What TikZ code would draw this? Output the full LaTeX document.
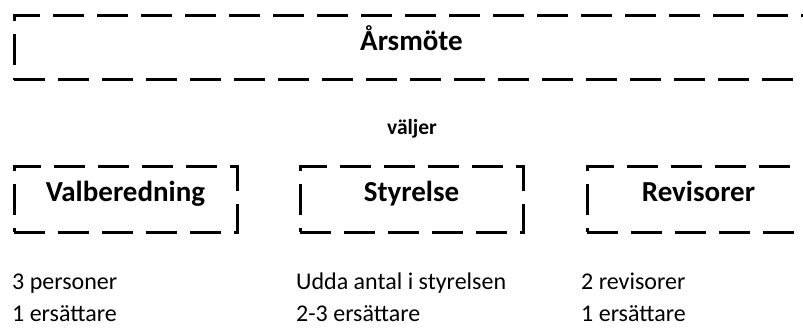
\documentclass[tikz,border=0pt]{standalone}
\usepackage{fontspec}
\setmainfont{Carlito}
\usetikzlibrary{positioning}
\tikzset{
	boxlabel/.style = {draw, line width = 3pt, dash pattern = on 31pt off 13pt, minimum height = 65pt, inner sep = 0pt, text height = 0.75em, text depth = 0.26em, font = {\fontsize{29pt}{34}\selectfont\bfseries}},
	infotext/.style = {anchor = base west, inner sep = 0pt, font = {\fontsize{24pt}{33}\selectfont}}
}

\begin{document}
\begin{tikzpicture}[x = 1pt, y = 1pt]
\useasboundingbox (0, 0) rectangle (803, 327);

\node[boxlabel, minimum width = 795pt, minimum height = 64pt] (ARS) at (411.5, 279) {Årsmöte};

\node[anchor = base, inner sep = 0pt, font = {\fontsize{21.5pt}{26}\selectfont\bfseries}] (VLJ) at (412, 192) {väljer};

\node[boxlabel, minimum width = 223pt] (VAL) at (125.5, 127.5) {Valberedning};
\node[boxlabel, minimum width = 223pt] (STY) at (411.5, 127.5) {Styrelse};
\node[boxlabel, minimum width = 223pt] (REV) at (698.5, 127.5) {Revisorer};

% texter under rutorna
\node[infotext] (VAL-A) at (12, 38) {3 personer};
\node[infotext] (VAL-B) at (12, 6) {1 ersättare};
\node[infotext] (STY-A) at (296, 38) {Udda antal i styrelsen};
\node[infotext] (STY-B) at (296, 6) {2-3 ersättare};
\node[infotext] (REV-A) at (581, 38) {2 revisorer};
\node[infotext] (REV-B) at (581, 6) {1 ersättare};
\end{tikzpicture}
\end{document}
